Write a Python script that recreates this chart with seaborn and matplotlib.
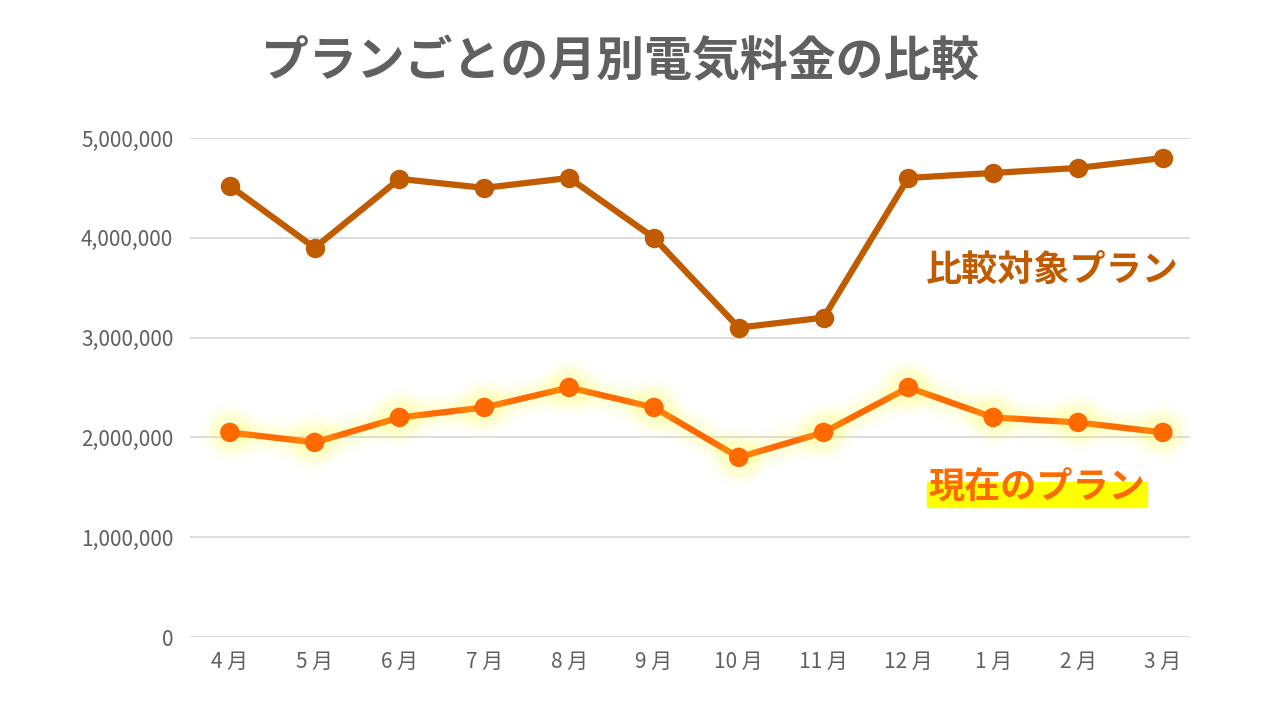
import pandas as pd
import matplotlib.pyplot as plt
import matplotlib.patheffects as pe
import seaborn as sns
from matplotlib.ticker import FuncFormatter

months = ["4 月", "5 月", "6 月", "7 月", "8 月", "9 月", "10 月", "11 月", "12 月", "1 月", "2 月", "3 月"]
compare_plan = [4520000, 3900000, 4590000, 4500000, 4600000, 4000000, 3100000, 3200000, 4600000, 4650000, 4700000, 4800000]
current_plan = [2050000, 1950000, 2200000, 2300000, 2500000, 2300000, 1800000, 2050000, 2500000, 2200000, 2150000, 2050000]
y_ticks = [0, 1000000, 2000000, 3000000, 4000000, 5000000]

sns.set_theme(style="white")
plt.rcParams['font.family'] = ['Noto Sans CJK JP', 'DejaVu Sans']

brown = "#C05B00"
orange = "#FF6A00"
gray = "#606060"

df = pd.DataFrame({"month": months, "比較対象プラン": compare_plan, "現在のプラン": current_plan})

fig = plt.figure(figsize=(12.8, 7.2), dpi=100)
ax = fig.add_axes([190/1280, 1-637/720, 1000/1280, (637-138)/720])

sns.lineplot(data=df, x="month", y="比較対象プラン", ax=ax, color=brown, linewidth=4.5,
             marker="o", markersize=14, markeredgewidth=0, sort=False)
sns.lineplot(data=df, x="month", y="現在のプラン", ax=ax, color=orange, linewidth=4.5,
             marker="o", markersize=14, markeredgewidth=0, sort=False)
# soft yellow glow under the current plan line
glow = [pe.Stroke(linewidth=30, foreground="#FFFF66", alpha=0.04),
        pe.Stroke(linewidth=22, foreground="#FFFF44", alpha=0.06),
        pe.Stroke(linewidth=14, foreground="#FFFF22", alpha=0.09),
        pe.Normal()]
ax.lines[1].set_path_effects(glow)

ax.set_ylim(0, 5000000)
ax.set_xlim(-0.47, 11.32)
ax.set_yticks(y_ticks)
ax.yaxis.set_major_formatter(FuncFormatter(lambda v, p: f"{int(v):,}"))
ax.grid(axis="y", color="#D9D9D9", linewidth=1.3)
ax.grid(axis="x", visible=False)
for s in ax.spines.values():
    s.set_visible(False)
ax.tick_params(axis="both", length=0, labelsize=15, labelcolor=gray)
ax.tick_params(axis="y", pad=12)
ax.tick_params(axis="x", pad=10)
ax.set_xlabel("")
ax.set_ylabel("")
ax.set_axisbelow(True)

fig.text(620/1280, 1-62/720, "プランごとの月別電気料金の比較", ha="center", va="center",
         fontsize=34.5, fontweight="semibold", color=gray)

fig.text(1052/1280, 1-270/720, "比較対象プラン", ha="center", va="center",
         fontsize=26, fontweight="semibold", color=brown)
fig.patches.append(plt.Rectangle((927/1280, 1-507/720), 220/1280, 25/720,
                                 transform=fig.transFigure, color="#FFFF00", zorder=0))
fig.text(1037/1280, 1-487/720, "現在のプラン", ha="center", va="center",
         fontsize=26, fontweight="semibold", color=orange, zorder=5)

fig.savefig("out.png", dpi=100, facecolor="white")
